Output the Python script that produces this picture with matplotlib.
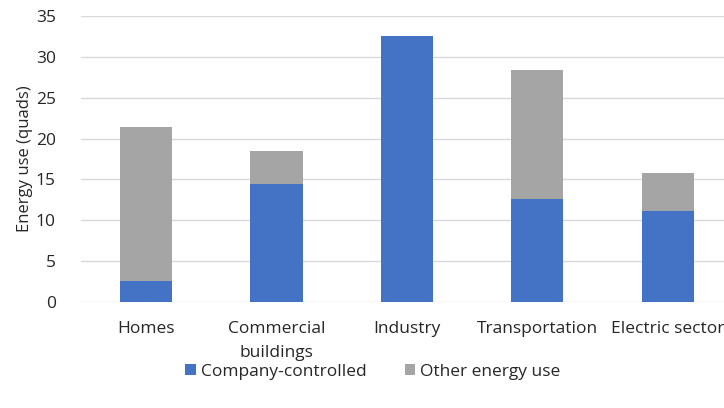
import matplotlib.pyplot as plt
import numpy as np

plt.rcParams['font.family'] = ['Open Sans', 'DejaVu Sans']

# Energy use by sector, quads
sectors = ["Homes", "Commercial\nbuildings", "Industry", "Transportation", "Electric sector"]
company_controlled = [2.6, 14.5, 32.6, 12.6, 11.1]
other_energy_use = [18.8, 4.0, 0.0, 15.8, 4.7]

blue = "#4472C4"
gray = "#A5A5A5"
text_color = "#262626"

fig = plt.figure(figsize=(7.24, 4.08), dpi=100)
ax = fig.add_axes([0.1115, 0.2598, 0.9010, 0.7010])

x = np.arange(len(sectors))
ax.bar(x, company_controlled, width=0.4, color=blue, label="Company-controlled", zorder=3)
ax.bar(x, other_energy_use, width=0.4, bottom=company_controlled, color=gray,
       label="Other energy use", zorder=3)

ax.set_xlim(-0.5, len(sectors) - 0.5)
ax.set_ylim(0, 35)
ax.set_yticks(np.arange(0, 36, 5))
ax.set_xticks(x)
ax.set_xticklabels(sectors, fontsize=12.5, color=text_color, linespacing=1.6)
ax.tick_params(axis="y", labelsize=12.5, colors=text_color, length=0, pad=18)
ax.tick_params(axis="x", length=0, pad=14)
ax.set_ylabel("Energy use (quads)", fontsize=12, color=text_color)
ax.yaxis.set_label_coords(-0.073, 0.5)

ax.grid(axis="y", color="#D9D9D9", linewidth=1, zorder=0)
for side in ["top", "right", "left", "bottom"]:
    ax.spines[side].set_visible(False)

fig.legend(loc="center", bbox_to_anchor=(0.515, 1 - 372 / 408), ncol=2, frameon=False,
           fontsize=12.5, handlelength=0.6, handleheight=0.6, handletextpad=0.3,
           columnspacing=2.2, labelcolor=text_color)

fig.savefig("out.png", dpi=100)
